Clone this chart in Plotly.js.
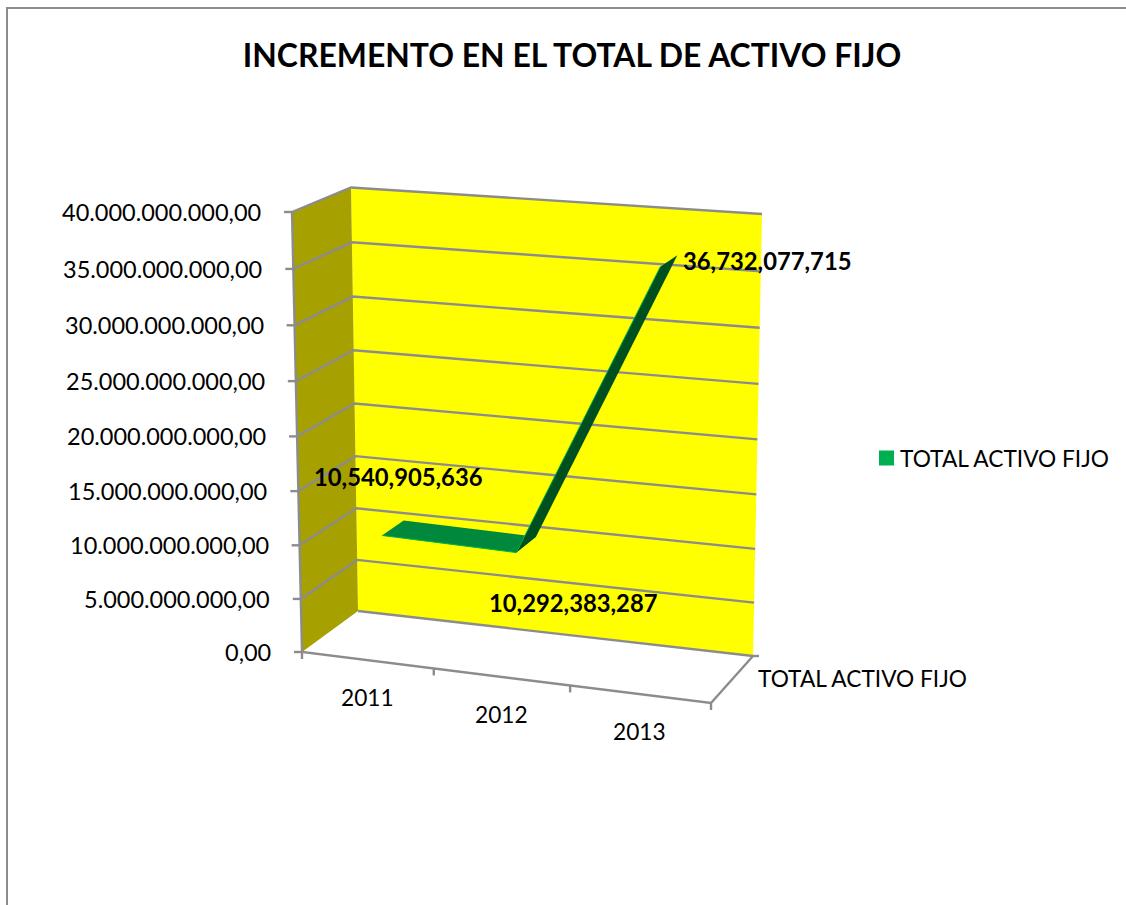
<!DOCTYPE html>
<html>
<head>
<meta charset="utf-8">
<script src="https://cdn.plot.ly/plotly-3.0.1.min.js"></script>
<style>html,body{margin:0;padding:0;background:#fff}#chart{width:1126px;height:905px}</style>
</head>
<body>
<div id="chart"></div>
<script>
const chartTitle = "INCREMENTO EN EL TOTAL DE ACTIVO FIJO";
const seriesName = "TOTAL ACTIVO FIJO";
const categories = ["2011", "2012", "2013"];
const seriesValues = [10540905636, 10292383287, 36732077715];
const dataLabels = ["10,540,905,636", "10,292,383,287", "36,732,077,715"];
const axisValues = [0, 5e9, 10e9, 15e9, 20e9, 25e9, 30e9, 35e9, 40e9];
const axisLabels = ["0,00", "5.000.000.000,00", "10.000.000.000,00", "15.000.000.000,00", "20.000.000.000,00",
  "25.000.000.000,00", "30.000.000.000,00", "35.000.000.000,00", "40.000.000.000,00"];

const FONT = "Lato, Carlito, Calibri, sans-serif";
const GRID = "#8c8c8c";
const axisMax = 40e9;

// Oblique projection of the chart box: u along the categories, v along the value axis, d in depth.
const box = {
  fb0: [302, 652], fb1: [711, 703], ft0: [292, 212], ft1: [723, 242],
  bb0: [358, 611], bb1: [753, 656], bt0: [351, 187.5], bt1: [762, 214]
};
const mix = (a, b, t) => [a[0] + (b[0] - a[0]) * t, a[1] + (b[1] - a[1]) * t];
function project(u, value, d) {
  const r = value / axisMax;
  const v = r - 0.04 * r * (1 - r); // slight perspective along the value axis
  const front = mix(mix(box.fb0, box.fb1, u), mix(box.ft0, box.ft1, u), v);
  const back = mix(mix(box.bb0, box.bb1, u), mix(box.bt0, box.bt1, u), v);
  return mix(front, back, d);
}
// slight perspective along the category axis
const warpU = u => u - 0.05 * u * (1 - u);
const catU = i => warpU((i + 0.5) / categories.length);

function poly(points, color) {
  const p = points.concat([points[0]]);
  return {x: p.map(q => q[0]), y: p.map(q => q[1]), mode: "lines", fill: "toself", fillcolor: color,
    line: {width: 0, color: color}, hoverinfo: "skip", showlegend: false, type: "scatter"};
}
function line(points, color, width) {
  return {x: points.map(q => q[0]), y: points.map(q => q[1]), mode: "lines",
    line: {width: width, color: color}, hoverinfo: "skip", showlegend: false, type: "scatter"};
}

const traces = [];
const LW = 2.4;
// walls
traces.push(poly([project(0,0,1), project(1,0,1), project(1,axisMax,1), project(0,axisMax,1)], "#ffff00"));
traces.push(poly([project(0,0,0), project(0,0,1), project(0,axisMax,1), project(0,axisMax,0)], "#a6a000"));
// gridlines on both walls
axisValues.forEach(val => {
  traces.push(line([project(1,val,1), project(0,val,1)].concat(val > 0 ? [project(0,val,0)] : []), GRID, LW));
  const t = project(0,val,0);
  traces.push(line([[t[0]-8, t[1]], t], GRID, LW));
});
// floor edges and axis lines
traces.push(line([project(0,axisMax,0), project(0,0,0), project(1,0,0), project(1,0,1)], GRID, LW));
const br = project(1,0,1);
traces.push(line([br, [br[0]+6, br[1]]], GRID, LW));
[0, 1, 2, 3].forEach(k => {
  const a = mix(box.fb0, box.fb1, warpU(k / categories.length));
  traces.push(line([a, [a[0], a[1]+7]], GRID, LW));
});
// ribbon
const D0 = 0.30, D1 = 0.70;
const R = categories.map((c, i) => ({f: project(catU(i), seriesValues[i], D0), b: project(catU(i), seriesValues[i], D1)}));
traces.push(poly([R[0].f, R[0].b, R[1].b, R[1].f], "#00893c"));
traces.push(line([R[0].f, R[1].f], "#00b050", 1));
traces.push(poly([R[1].f, R[1].b, R[2].b, R[2].f], "#00501f"));
traces.push(line([R[1].f, R[2].f], "#00b050", 1));
// legend swatch
traces.push({x: [886.5], y: [458], mode: "markers", type: "scatter", name: seriesName, showlegend: false, hoverinfo: "skip",
  marker: {symbol: "square", size: 15, color: "#00b050"}});

const annotations = [];
const note = (x, y, text, size, bold, anchor, xs, ys) => annotations.push({
  x, y, xref: "x", yref: "y", text: bold ? "<b>" + text + "</b>" : text, showarrow: false,
  xanchor: anchor, yanchor: "middle", xshift: xs || 0, yshift: ys || 0,
  font: {family: FONT, size, color: "#000"}
});
axisValues.forEach((val, i) => {
  const p = project(0, val, 0);
  note(p[0], p[1], axisLabels[i], 23.5, false, "right", -29, 0);
});
categories.forEach((c, i) => {
  const p = project((i + 0.5) / categories.length, 0, 0);
  note(p[0], p[1], c, 22.7, false, "center", -3 - (i === 1 ? 2.5 : 0), -37);
});
const dl = project(1, 0, 0.5);
note(dl[0], dl[1], seriesName, 22.7, false, "left", 24, 1);
// data labels
const L = i => project((i + 0.5) / categories.length, seriesValues[i], 0.27);
const L0 = L(0), L1 = L(1), L2 = project(5 / 6, seriesValues[2], 0.63);
note(L0[0], L0[1], dataLabels[0], 23.8, true, "center", 15, 60);
note(L1[0], L1[1], dataLabels[1], 23.8, true, "center", 54, -49);
note(L2[0], L2[1], dataLabels[2], 23.8, true, "center", 90, -4);
note(901, 458, seriesName, 22.7, false, "left", -3, 0);

const layout = {
  width: 1126, height: 905, margin: {l: 0, r: 0, t: 0, b: 0, pad: 0},
  paper_bgcolor: "#fff", plot_bgcolor: "#fff", showlegend: false,
  title: {text: "<b>" + chartTitle + "</b>", x: 0.508, xanchor: "center", y: 0.938, yanchor: "middle",
    font: {family: FONT, size: 31.9, color: "#000"}},
  xaxis: {range: [0, 1126], visible: false, fixedrange: true},
  yaxis: {range: [905, 0], visible: false, fixedrange: true},
  annotations,
  shapes: [{type: "path", xref: "x", yref: "y", path: "M 7 905 L 7 8 L 1126 8", line: {color: GRID, width: 2}}]
};
Plotly.newPlot("chart", traces, layout, {displayModeBar: false, staticPlot: true});
</script>
</body>
</html>
